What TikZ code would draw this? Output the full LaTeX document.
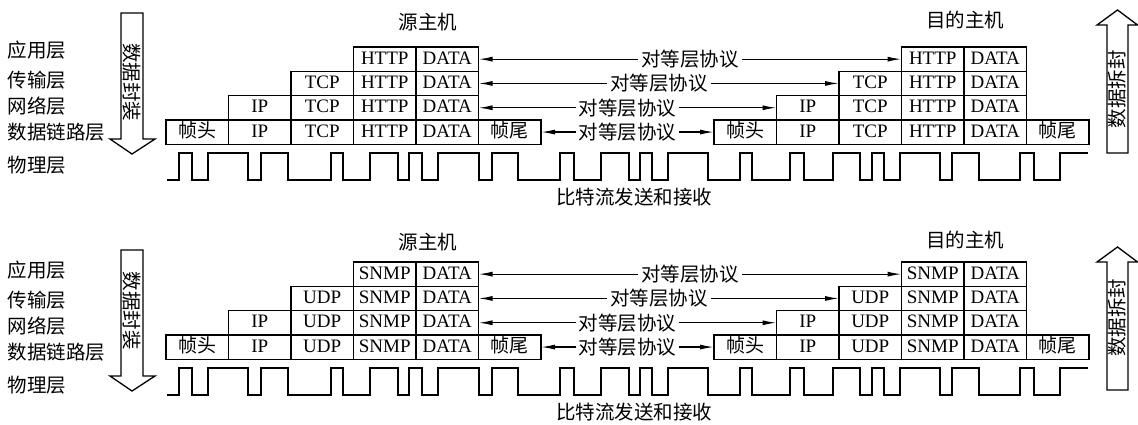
\documentclass[tikz,border=0pt]{standalone}
\usepackage{fontspec}
\setmainfont{Liberation Serif}
\newfontfamily\cjk{Noto Sans CJK SC}
\usetikzlibrary{arrows.meta,positioning}

\begin{document}
\begin{tikzpicture}[x=1pt,y=-1pt,line width=1.3pt,>={Latex[length=14pt,width=5pt]},
 cell/.style={draw,minimum width=62.5pt,minimum height=24.3pt,inner sep=0pt,outer sep=0pt,
   text height=13.5pt,text depth=3.5pt,font=\fontsize{19}{21}\selectfont},
 zh/.style={inner sep=1pt,font=\cjk\fontsize{19.5}{22}\selectfont},
 peer/.style={zh,fill=white,inner sep=3pt}]
\useasboundingbox (0,0) rectangle (1138,424);
\foreach \s/\l/\a/\t/\p in {0/0/0/TCP/HTTP,215/220/237/UDP/SNMP}{
% layers
\node[zh,anchor=west] (lapp) at (6,50.5+\l) {应用层};
\node[zh,anchor=west] (ltrans) at (6,80+\l) {传输层};
\node[zh,anchor=west] (lnet) at (6,106+\l) {网络层};
\node[zh,anchor=west] (llink) at (6,132+\l) {数据链路层};
\node[zh,anchor=west] (lphy) at (6,165+\l) {物理层};
\node[zh] (src) at (428,22.5+\l) {源主机};
\node[zh] (dst) at (965,20.5+\l) {目的主机};
% encapsulation arrows
\draw (121,13+\a) -- (143,13+\a) -- (143,139+\a) -- (155,139+\a) -- (132,154+\a)
  -- (110,139+\a) -- (121,139+\a) -- cycle;
\node[zh,rotate=-90] (enc) at (132,{82+(\l+\a)/2}) {数据封装};
\draw (1107,153+\a) -- (1107,25+\a) -- (1097,25+\a) -- (1117.5,10+\a) -- (1137.5,25+\a)
  -- (1128,25+\a) -- (1128,153+\a) -- cycle;
\node[zh,rotate=90] (dec) at (1117.5,{89+(\l+\a)/2}) {数据拆封};
% source host
\node[cell,anchor=north west] (sfh) at (166,119.9+\s) {\cjk 帧头};
\node[cell,right=0pt of sfh] (sip4) {IP};
\node[cell,right=0pt of sip4] (st4) {\t};
\node[cell,right=0pt of st4] (sa4) {\p};
\node[cell,right=0pt of sa4] (sd4) {DATA};
\node[cell,right=0pt of sd4] (sft) {\cjk 帧尾};
\node[cell,above=0pt of sip4] (sip3) {IP};
\node[cell,right=0pt of sip3] (st3) {\t};
\node[cell,right=0pt of st3] (sa3) {\p};
\node[cell,right=0pt of sa3] (sd3) {DATA};
\node[cell,above=0pt of st3] (st2) {\t};
\node[cell,right=0pt of st2] (sa2) {\p};
\node[cell,right=0pt of sa2] (sd2) {DATA};
\node[cell,above=0pt of sa2] (sa1) {\p};
\node[cell,right=0pt of sa1] (sd1) {DATA};
% destination host
\node[cell,anchor=north west] (dfh) at (714,119.9+\s) {\cjk 帧头};
\node[cell,right=0pt of dfh] (dip4) {IP};
\node[cell,right=0pt of dip4] (dt4) {\t};
\node[cell,right=0pt of dt4] (da4) {\p};
\node[cell,right=0pt of da4] (dd4) {DATA};
\node[cell,right=0pt of dd4] (dft) {\cjk 帧尾};
\node[cell,above=0pt of dip4] (dip3) {IP};
\node[cell,right=0pt of dip3] (dt3) {\t};
\node[cell,right=0pt of dt3] (da3) {\p};
\node[cell,right=0pt of da3] (dd3) {DATA};
\node[cell,above=0pt of dt3] (dt2) {\t};
\node[cell,right=0pt of dt2] (da2) {\p};
\node[cell,right=0pt of da2] (dd2) {DATA};
\node[cell,above=0pt of da2] (da1) {\p};
\node[cell,right=0pt of da1] (dd1) {DATA};
% peer protocols
\draw[<->] (sd1.east) -- node[peer] {对等层协议} (da1.west);
\draw[<->] (sd2.east) -- node[peer] {对等层协议} (dt2.west);
\draw[<->] (sd3.east) -- node[peer] {对等层协议} (dip3.west);
\draw[<->] (sft.east) -- node[peer] {对等层协议} (dfh.west);
% bit stream
\begin{scope}[shift={(0,\s)}]
\draw (167,180) -| (179,153) -| (192,180) -| (208,153) -| (248,180) -| (261,153)
  -| (288,180) -| (331,153) -| (343,180) -| (370,153) -| (398,180) -| (409,153)
  -| (422,180) -| (438,153) -| (479,180) -| (492,153) -| (518,180) -| (560,153)
  -| (574,180) -| (601,153) -| (629,180) -| (640,153) -| (652,180) -| (668,153)
  -| (708,180) -| (740,153) -| (752,180) -| (790,153) -| (804,180) -| (833,153)
  -| (860,180) -| (872,153) -| (884,180) -| (900,153) -| (940,180) -| (952,153)
  -| (979,180) -| (1020,153) -| (1034,180) -| (1060,153) -- (1088,153);
\end{scope}
\node[zh] (bits) at (634,197.5+\s) {比特流发送和接收};
}
\end{tikzpicture}
\end{document}
